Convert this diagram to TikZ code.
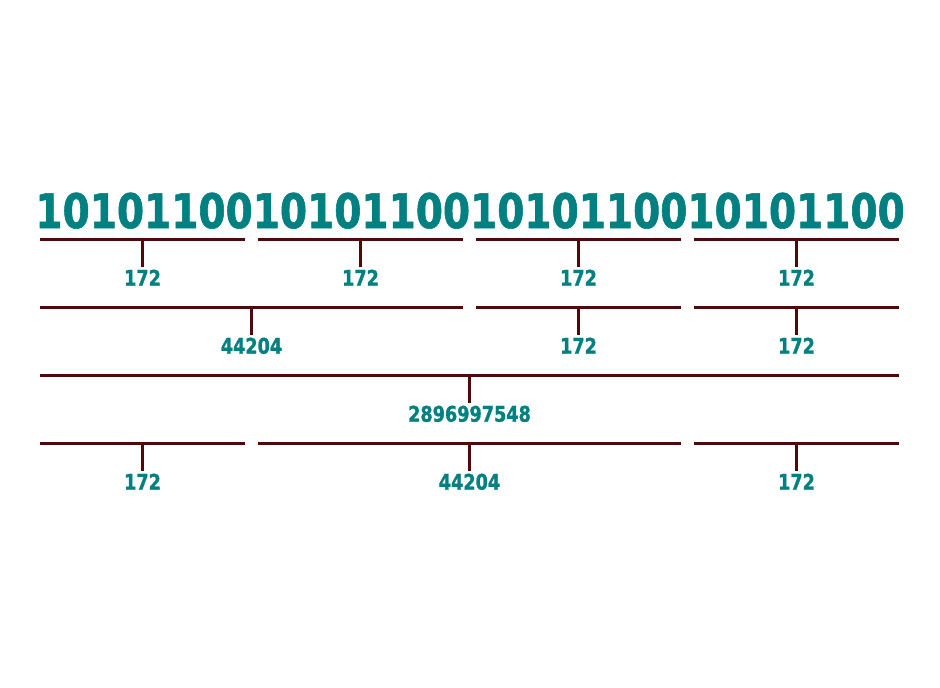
\documentclass[tikz,border=0pt]{standalone}
\usepackage{fontspec}
\newfontfamily\digitfont{DejaVu Sans}[FakeStretch=0.82, BoldFeatures={FakeBold=1.2}]
\usetikzlibrary{calc}
\definecolor{tealtxt}{RGB}{0,128,128}
\definecolor{brk}{RGB}{80,8,8}
\tikzset{
  bits/.style={text=tealtxt, font=\digitfont\bfseries\fontsize{47.6}{48}\selectfont, inner sep=0pt, anchor=base},
  lbl/.style={text=tealtxt, font=\digitfont\bfseries\fontsize{21.5}{22}\selectfont, inner sep=2.5pt, anchor=north},
  bar/.style={draw=brk, line width=3pt},
}
\begin{document}
\begin{tikzpicture}[x=1pt,y=-1pt]
\useasboundingbox[fill=white] (0,0) rectangle (940,688);
\node[bits] (word) at (470,228) {10101100101011001010110010101100};
\foreach \n/\l/\r/\t/\y in {a/40/245/172/239, b/258/463/172/239, c/476/681/172/239, d/694/899/172/239,
  e/40/463/44204/307, f/476/681/172/307, g/694/899/172/307,
  h/40/899/2896997548/375,
  i/40/245/172/443, j/258/681/44204/443, k/694/899/172/443}{
  \coordinate (\n L) at (\l,\y);
  \coordinate (\n R) at (\r,\y);
  \coordinate (\n M) at ($(\n L)!0.5!(\n R)$);
  \node[lbl] (\n) at ($(\n M)+(0,28)$) {\t};
  \draw[bar] (\n L) -- (\n R);
  \draw[bar] (\n M) -- (\n.north);
}
\end{tikzpicture}
\end{document}
